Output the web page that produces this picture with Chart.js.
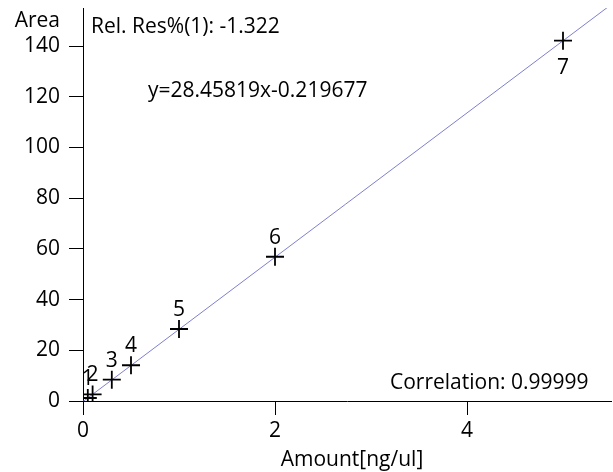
<!DOCTYPE html>
<html>
<head>
<meta charset="utf-8">
<script src="https://cdn.jsdelivr.net/npm/chart.js@4/dist/chart.umd.min.js"></script>
<style>
html,body{margin:0;padding:0;background:#fff;}
canvas{display:block;}
</style>
</head>
<body>
<canvas id="c" width="613" height="472"></canvas>
<script>
// ---- data ----
const amounts = [0.05, 0.1, 0.3, 0.5, 1, 2, 5];
const areas = [1.19, 2.6, 8.4, 14.1, 28.4, 56.9, 142.1];
const pointLabels = ['1', '2', '3', '4', '5', '6', '7'];
const fitSlope = 28.45819;
const fitIntercept = -0.219677;
const fitRangeX = [0, 5.5];
const xTickLabels = [0, 2, 4];
const yTickLabels = [0, 20, 40, 60, 80, 100, 120, 140];
const xTitle = 'Amount[ng/ul]';
const yTitle = 'Area';
const relResText = 'Rel. Res%(1): -1.322';
const equationText = 'y=28.45819x-0.219677';
const correlationText = 'Correlation: 0.99999';

const FONT = '"Open Sans", "Noto Sans", sans-serif';
const FS = 21;

const pointData = amounts.map((x, i) => ({ x: x, y: areas[i] }));
const fitData = fitRangeX.map(x => ({ x: x, y: fitSlope * x + fitIntercept }));

const minorTicks = {
  id: 'minorTicks',
  afterDraw(chart) {
    const ctx = chart.ctx;
    const xs = chart.scales.x, ys = chart.scales.y;
    ctx.save();
    ctx.strokeStyle = '#000';
    ctx.lineWidth = 1;
    ctx.beginPath();
    xs.ticks.forEach(t => {
      if (xTickLabels.indexOf(t.value) === -1) {
        const px = Math.round(xs.getPixelForValue(t.value)) + 0.5;
        ctx.moveTo(px, xs.top);
        ctx.lineTo(px, xs.top + 7);
      }
    });
    ys.ticks.forEach(t => {
      if (yTickLabels.indexOf(t.value) === -1) {
        const py = Math.round(ys.getPixelForValue(t.value)) + 0.5;
        ctx.moveTo(ys.right - 7, py);
        ctx.lineTo(ys.right, py);
      }
    });
    ctx.stroke();
    ctx.restore();
  }
};

const annotations = {
  id: 'annotations',
  afterDraw(chart) {
    const ctx = chart.ctx;
    const area = chart.chartArea;
    ctx.save();
    ctx.fillStyle = '#000';
    ctx.font = FS + 'px ' + FONT;
    ctx.textBaseline = 'alphabetic';
    ctx.textAlign = 'right';
    ctx.fillText(yTitle, 60, 27);
    ctx.textAlign = 'left';
    ctx.fillText(relResText, 91, 33);
    ctx.fillText(equationText, 148, 97);
    ctx.fillText(correlationText, 390, 389);
    ctx.textAlign = 'center';
    ctx.fillText(xTitle, 352, 466);
    // point number labels
    const meta = chart.getDatasetMeta(0);
    meta.data.forEach((el, i) => {
      const below = el.y - 45 < area.top;
      ctx.fillText(pointLabels[i], el.x, below ? el.y + 33 : el.y - 13);
    });
    ctx.restore();
  }
};

new Chart(document.getElementById('c'), {
  type: 'scatter',
  data: {
    datasets: [
      {
        label: 'Standards',
        data: pointData,
        pointStyle: 'cross',
        pointRadius: 9,
        pointHoverRadius: 9,
        pointBorderWidth: 1.8,
        borderColor: '#000',
        backgroundColor: '#000',
        showLine: false,
        clip: 0,
        order: 0
      },
      {
        type: 'line',
        label: 'Fit',
        data: fitData,
        borderColor: '#7f7fcf',
        borderWidth: 1,
        pointRadius: 0,
        fill: false,
        clip: 0,
        order: 1
      }
    ]
  },
  options: {
    responsive: false,
    animation: false,
    devicePixelRatio: 1,
    layout: { autoPadding: false, padding: { top: 8, right: 2, left: 0, bottom: 0 } },
    plugins: { legend: { display: false }, tooltip: { enabled: false } },
    scales: {
      x: {
        type: 'linear',
        min: 0,
        max: 5.5,
        afterFit(s) { s.height = 71; s.paddingLeft = 0; s.paddingRight = 0; s.paddingTop = 0; s.paddingBottom = 0; },
        ticks: {
          stepSize: 0.5,
          autoSkip: false,
          maxRotation: 0,
          padding: 3,
          color: '#000',
          font: { family: FONT, size: FS },
          callback: v => (xTickLabels.indexOf(v) !== -1 ? String(v) : null)
        },
        grid: {
          drawOnChartArea: false,
          drawTicks: true,
          tickLength: 14,
          tickColor: '#000',
          color: '#000'
        },
        border: { display: true, color: '#000', width: 1 }
      },
      y: {
        type: 'linear',
        min: 0,
        max: 155,
        afterFit(s) { s.width = 83; s.paddingLeft = 0; s.paddingRight = 0; s.paddingTop = 0; s.paddingBottom = 0; },
        ticks: {
          stepSize: 5,
          autoSkip: false,
          padding: 9,
          color: '#000',
          font: { family: FONT, size: FS },
          callback: v => (yTickLabels.indexOf(v) !== -1 ? String(v) : null)
        },
        grid: {
          drawOnChartArea: false,
          drawTicks: true,
          tickLength: 14,
          tickColor: '#000',
          color: '#000'
        },
        border: { display: true, color: '#000', width: 1 }
      }
    }
  },
  plugins: [minorTicks, annotations]
});
</script>
</body>
</html>
